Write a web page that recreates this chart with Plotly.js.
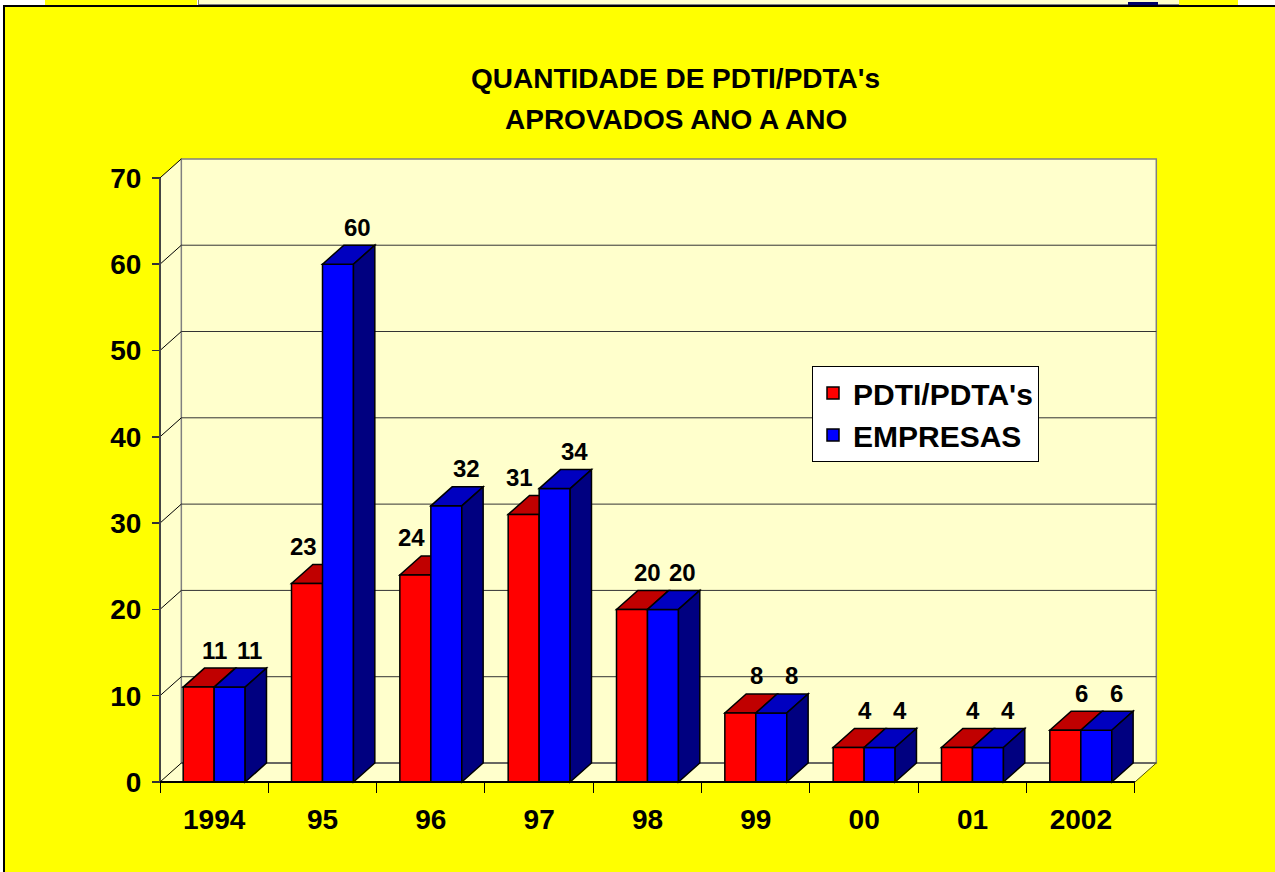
<!DOCTYPE html>
<html>
<head>
<meta charset="utf-8">
<script src="https://cdn.plot.ly/plotly-3.0.1.min.js"></script>
<style>
  html, body { margin: 0; padding: 0; background: #ffffff; overflow: hidden; }
  #strip1 { position: absolute; left: 45px; top: 0; width: 152px; height: 5px; background: #ffff00; }
  #strip2 { position: absolute; left: 198px; top: 0; width: 980px; height: 4px; background: #ffffcc; border-bottom: 1px solid #808080; border-left: 1px solid #808080; }
  #strip3 { position: absolute; left: 1179px; top: 0; width: 59px; height: 5px; background: #ffff00; }
  #strip4 { position: absolute; left: 1128px; top: 2px; width: 30px; height: 3px; background: #000066; }
  #panel { position: absolute; left: 3px; top: 5px; width: 1272px; height: 867px; background: #ffff00; border-left: 2px solid #000; border-top: 2px solid #000; box-sizing: border-box; }
  #chart { position: absolute; left: 0; top: 0; width: 1275px; height: 872px; }
</style>
</head>
<body>
<div id="strip1"></div><div id="strip2"></div><div id="strip3"></div><div id="strip4"></div>
<div id="panel"></div>
<div id="chart"></div>
<script>
// ---- data ----
const categories = ['1994', '95', '96', '97', '98', '99', '00', '01', '2002'];
const pdti = [11, 23, 24, 31, 20, 8, 4, 4, 6];
const empresas = [11, 60, 32, 34, 20, 8, 4, 4, 6];
const yTicks = [0, 10, 20, 30, 40, 50, 60, 70];
const seriesNames = ["PDTI/PDTA's", 'EMPRESAS'];
const titleLines = ["QUANTIDADE DE PDTI/PDTA's", 'APROVADOS ANO A ANO'];

// ---- styling / geometry ----
const DX = 0.197, DY = 2.2, BW = 0.286, YMAX = 70;
const FONT = 'Liberation Sans, Arial, Helvetica, sans-serif';
const WALL = '#ffffcc';
const xIdx = categories.map((c, i) => i);
const nCat = categories.length;
const xl = -0.5, xr = nCat - 0.5;

function poly(pts) {
  return 'M' + pts.map(p => p[0] + ',' + p[1]).join('L') + 'Z';
}

const shapes = [];
// left wall
shapes.push({type: 'path', layer: 'below', path: poly([[xl, 0], [xl + DX, DY], [xl + DX, YMAX + DY], [xl, YMAX]]),
  fillcolor: WALL, line: {width: 0}});
// floor
shapes.push({type: 'path', layer: 'below', path: poly([[xl, 0], [xr, 0], [xr + DX, DY], [xl + DX, DY]]),
  fillcolor: WALL, line: {width: 0}});
// back wall
shapes.push({type: 'path', layer: 'below', path: poly([[xl + DX, DY], [xr + DX, DY], [xr + DX, YMAX + DY], [xl + DX, YMAX + DY]]),
  fillcolor: WALL, line: {color: '#808080', width: 1.5}});
// gridlines on back wall and left wall
yTicks.forEach(v => {
  if (v < YMAX) {
    shapes.push({type: 'line', layer: 'below', x0: xl + DX, x1: xr + DX, y0: v + DY, y1: v + DY, line: {color: '#333333', width: 1}});
  }
  shapes.push({type: 'line', layer: 'below', x0: xl, x1: xl + DX, y0: v, y1: v + DY, line: {color: '#000000', width: 1}});
});
// floor right edge
shapes.push({type: 'line', layer: 'below', x0: xr, x1: xr + DX, y0: 0, y1: DY, line: {color: '#555500', width: 1}});
// front axes lines
shapes.push({type: 'line', layer: 'above', x0: xl, x1: xl, y0: 0, y1: YMAX, line: {color: '#444444', width: 2}});
shapes.push({type: 'line', layer: 'above', x0: xl, x1: xr, y0: 0, y1: 0, line: {color: '#000000', width: 2}});

// bar tops and sides
xIdx.forEach(i => {
  const r = pdti[i], b = empresas[i];
  const r0 = i - BW, r1 = i, b0 = i, b1 = i + BW;
  shapes.push({type: 'path', layer: 'below', path: poly([[r0, r], [r1, r], [r1 + DX, r + DY], [r0 + DX, r + DY]]),
    fillcolor: '#c00000', line: {color: '#000', width: 1.5}});
  shapes.push({type: 'path', layer: 'above', path: poly([[b0, b], [b1, b], [b1 + DX, b + DY], [b0 + DX, b + DY]]),
    fillcolor: '#0000c0', line: {color: '#000', width: 1.5}});
  shapes.push({type: 'path', layer: 'above', path: poly([[b1, 0], [b1 + DX, DY], [b1 + DX, b + DY], [b1, b]]),
    fillcolor: '#000080', line: {color: '#000', width: 1.5}});
});

// data labels (red label nudged left when the blue column next to it is taller)
const annotations = [];
const labelFont = {family: FONT, size: 24, color: '#000', weight: 'bold'};
xIdx.forEach(i => {
  const redShift = empresas[i] > pdti[i] ? -4 : 16;
  annotations.push({x: i - BW / 2, y: pdti[i] + DY, xshift: redShift, yshift: 18, text: String(pdti[i]), showarrow: false,
    xanchor: 'center', yanchor: 'middle', font: labelFont});
  annotations.push({x: i + BW / 2, y: empresas[i] + DY, xshift: 20, yshift: 18, text: String(empresas[i]), showarrow: false,
    xanchor: 'center', yanchor: 'middle', font: labelFont});
});

const pxPerCat = 108.33, pxPerUnit = 8.63;
const mL = 158, mR = 115, mT = 150, mB = 87;
const plotW = 1275 - mL - mR, plotH = 872 - mT - mB;

// second title line
annotations.push({xref: 'paper', yref: 'paper', x: (675.5 - mL) / plotW, y: (785 - 119) / plotH,
  xanchor: 'center', yanchor: 'middle', showarrow: false, text: titleLines[1],
  font: {family: FONT, size: 28, color: '#000', weight: 'bold'}});

const traces = [
  {type: 'bar', name: seriesNames[0], x: xIdx, y: pdti, offset: -BW, width: BW,
   marker: {color: '#ff0000', line: {color: '#000', width: 1.5}}, hoverinfo: 'x+y'},
  {type: 'bar', name: seriesNames[1], x: xIdx, y: empresas, offset: 0, width: BW,
   marker: {color: '#0000ff', line: {color: '#000', width: 1.5}}, hoverinfo: 'x+y'}
];

const xMin = xl - (160 - mL) / pxPerCat;
const xMax = xMin + plotW / pxPerCat;
const yMin = -(785 - 782) / pxPerUnit;
const yMax = yMin + plotH / pxPerUnit;

const layout = {
  width: 1275, height: 872,
  paper_bgcolor: 'rgba(0,0,0,0)', plot_bgcolor: 'rgba(0,0,0,0)',
  margin: {l: mL, r: mR, t: mT, b: mB, pad: 0},
  barmode: 'overlay',
  title: {text: titleLines[0], x: 675.5 / 1275, xanchor: 'center',
    y: 1 - 78 / 872, yanchor: 'middle', yref: 'container',
    font: {family: FONT, size: 28, color: '#000', weight: 'bold'}},
  xaxis: {type: 'linear', range: [xMin, xMax], tickmode: 'array', tickvals: xIdx, ticktext: categories,
    ticks: '', showgrid: false, zeroline: false, showline: false, anchor: 'free', position: (0 - yMin) / (yMax - yMin),
    tickfont: {family: FONT, size: 28, color: '#000', weight: 'bold'}, ticklabelstandoff: 18,
    minor: {tickmode: 'array', tickvals: xIdx.concat([nCat]).map(i => i - 0.5), ticks: 'outside', ticklen: 10, tickcolor: '#000', tickwidth: 1, showgrid: false},
    fixedrange: true},
  yaxis: {type: 'linear', range: [yMin, yMax], tickmode: 'array', tickvals: yTicks, ticks: 'outside', ticklen: 8,
    tickcolor: '#333', tickwidth: 1.5, showgrid: false, zeroline: false, showline: false, anchor: 'free',
    position: (xl - xMin) / (xMax - xMin), ticklabelstandoff: 5,
    tickfont: {family: FONT, size: 28, color: '#000', weight: 'bold'}, fixedrange: true},
  legend: {x: (812 - mL) / plotW, y: (785 - 366) / plotH, xanchor: 'left', yanchor: 'top',
    bgcolor: '#ffffff', bordercolor: '#000', borderwidth: 1, itemwidth: 30,
    font: {family: FONT, size: 30, color: '#000', weight: 'bold'}},
  showlegend: true,
  shapes: shapes,
  annotations: annotations
};

Plotly.newPlot('chart', traces, layout, {displayModeBar: false, staticPlot: true});
</script>
</body>
</html>
